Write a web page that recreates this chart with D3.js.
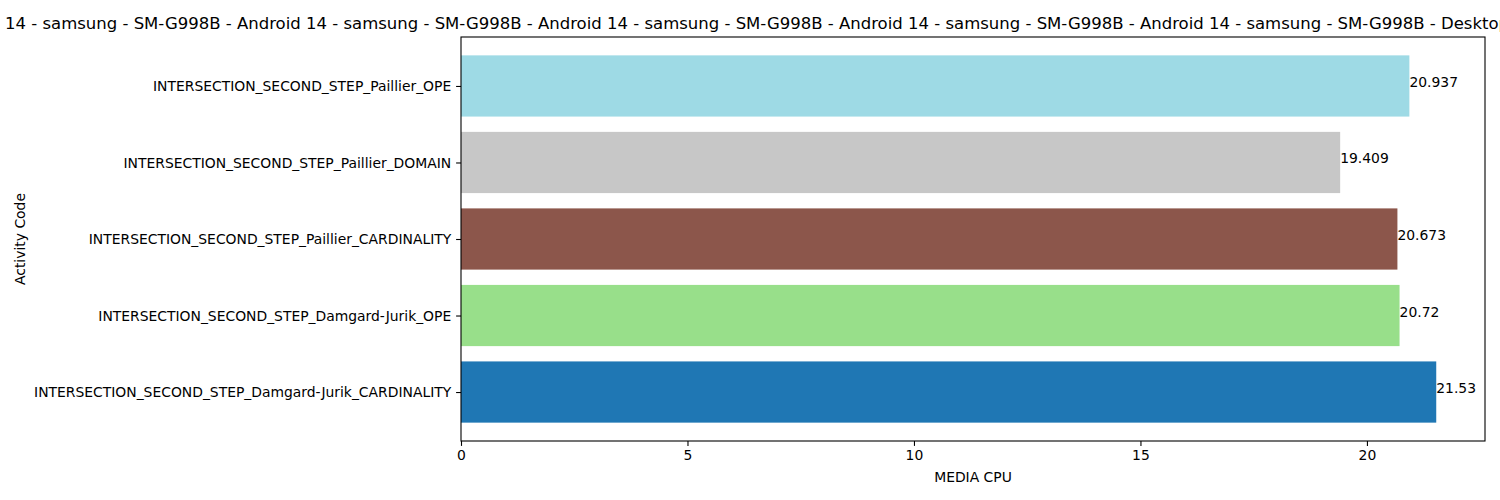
<!DOCTYPE html>
<html>
<head>
<meta charset="utf-8">
<script src="https://cdn.jsdelivr.net/npm/d3@7"></script>
<style>
    body { margin: 0; background: #fff; }
    svg text { font-family: "DejaVu Sans", sans-serif; fill: #000; }
</style>
</head>
<body>
<div id="chart"></div>
<script>
// bottom to top, as matplotlib draws barh
const categories = [
    "INTERSECTION_SECOND_STEP_Damgard-Jurik_CARDINALITY",
    "INTERSECTION_SECOND_STEP_Damgard-Jurik_OPE",
    "INTERSECTION_SECOND_STEP_Paillier_CARDINALITY",
    "INTERSECTION_SECOND_STEP_Paillier_DOMAIN",
    "INTERSECTION_SECOND_STEP_Paillier_OPE"
];
const values = [21.53, 20.72, 20.673, 19.409, 20.937];
const barColors = ["#1f77b4", "#98df8a", "#8c564b", "#c7c7c7", "#9edae5"];
const xTicks = [0, 5, 10, 15, 20];
const titlePrefix = "Android ";
const titleText = titlePrefix + "14 - samsung - SM-G998B - Android 14 - samsung - SM-G998B - Android 14 - samsung - SM-G998B - Android 14 - samsung - SM-G998B - Android 14 - samsung - SM-G998B - Desktop";

const width = 1500, height = 500;
const plot = { left: 461, right: 1485, top: 37, bottom: 441 };

const svg = d3.select("#chart").append("svg")
    .attr("width", width)
    .attr("height", height);

const xMax = d3.max(values) * 1.05;
const x = d3.scaleLinear().domain([0, xMax]).range([plot.left, plot.right]);
// categorical positions 0..n-1, bar height 0.8, 5% margins
const n = categories.length;
const yLo = -0.4 - 0.05 * (n - 1 + 0.8);
const yHi = n - 1 + 0.4 + 0.05 * (n - 1 + 0.8);
const y = d3.scaleLinear().domain([yLo, yHi]).range([plot.bottom, plot.top]);

const bars = svg.append("g");
bars.selectAll("rect")
    .data(values)
    .enter().append("rect")
    .attr("x", x(0))
    .attr("y", (d, i) => y(i + 0.4))
    .attr("width", d => x(d) - x(0))
    .attr("height", (d, i) => y(i - 0.4) - y(i + 0.4))
    .attr("fill", (d, i) => barColors[i]);

bars.selectAll("text")
    .data(values)
    .enter().append("text")
    .attr("x", d => x(d))
    .attr("y", (d, i) => y(i) + 1)
    .attr("font-size", "13.9px")
    .text(d => String(d));

// axes
const xAxis = svg.append("g")
    .attr("transform", `translate(0,${plot.bottom})`)
    .call(d3.axisBottom(x).tickValues(xTicks).tickSize(4.9).tickPadding(4).tickFormat(d3.format("d")));
const yAxis = svg.append("g")
    .attr("transform", `translate(${plot.left},0)`)
    .call(d3.axisLeft(y).tickValues(d3.range(n)).tickSize(4.9).tickPadding(4.9).tickFormat(i => categories[i]));

[xAxis, yAxis].forEach(g => {
    g.select(".domain").remove();
    g.selectAll(".tick line").attr("stroke", "#000").attr("stroke-width", 1.1);
    g.selectAll(".tick text").attr("font-size", "13.9px").attr("font-family", "DejaVu Sans");
});
yAxis.selectAll(".tick text").attr("dy", "0.35em");

svg.append("rect")
    .attr("x", plot.left)
    .attr("y", plot.top)
    .attr("width", plot.right - plot.left)
    .attr("height", plot.bottom - plot.top)
    .attr("fill", "none")
    .attr("stroke", "#000")
    .attr("stroke-width", 1.1);

// labels
svg.append("text")
    .attr("x", (plot.left + plot.right) / 2)
    .attr("y", 482)
    .attr("text-anchor", "middle")
    .attr("font-size", "13.9px")
    .text("MEDIA CPU");

svg.append("text")
    .attr("transform", `translate(25,${(plot.top + plot.bottom) / 2}) rotate(-90)`)
    .attr("text-anchor", "middle")
    .attr("font-size", "13.9px")
    .text("Activity Code");

// long title, clipped by the figure on both sides
const title = svg.append("text")
    .attr("y", 29)
    .attr("font-size", "16.5px")
    .attr("xml:space", "preserve")
    .text(titleText);
const prefixW = title.node().getSubStringLength(0, titlePrefix.length);
title.attr("x", 5 - prefixW);
</script>
</body>
</html>
